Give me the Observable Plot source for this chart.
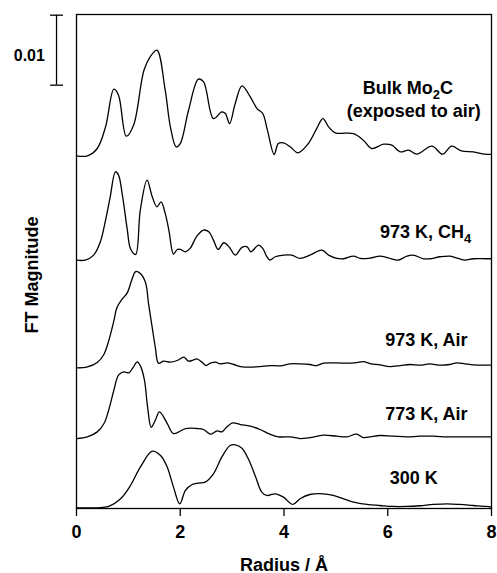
<!DOCTYPE html>
<html>
<head>
<meta charset="utf-8">
<script src="https://cdn.jsdelivr.net/npm/d3@7"></script>
<script src="https://cdn.jsdelivr.net/npm/@observablehq/plot@0.6"></script>
<style>
  html, body { margin: 0; padding: 0; background: #fff; }
  #chart svg { display: block; }
</style>
</head>
<body>
<div id="chart"></div>
<script>
// FT magnitudes in units of 10^-3 (scale bar = 0.01 = 10 units); radius in Å
const rBulk = [0, 0.21, 0.40, 0.56, 0.72, 0.81, 0.96, 1.10, 1.30, 1.42, 1.55, 1.71, 1.81, 1.92, 2.00, 2.16, 2.35, 2.45, 2.64, 2.80, 2.87, 2.95, 3.06, 3.19, 3.35, 3.48, 3.59, 3.68, 3.81, 3.89, 3.99, 4.12, 4.27, 4.47, 4.63, 4.75, 4.86, 4.99, 5.34, 5.53, 5.69, 5.92, 6.08, 6.24, 6.40, 6.56, 6.85, 7.06, 7.23, 7.42, 7.65, 7.87, 8.0];
const ftBulk = [0, 0, 1.05, 4.14, 9.52, 8.67, 2.81, 4.38, 12.24, 14.14, 15.1, 9.38, 4.14, 1.29, 1.76, 6.52, 10.95, 10.57, 5.33, 6.29, 6.05, 4.62, 7.48, 10.0, 8.43, 6.76, 6.05, 3.67, 0.19, 1.76, 1.86, 1.29, 0.43, 1.76, 3.90, 5.33, 4.14, 3.29, 3.19, 2.24, 1.05, 1.67, 1.52, 0.57, 0.81, 0.24, 1.38, 0.24, 1.38, 0.71, 0.57, 0.24, 0.2];

const rCH4 = [0, 0.17, 0.33, 0.46, 0.56, 0.65, 0.75, 0.81, 0.88, 0.98, 1.04, 1.14, 1.23, 1.36, 1.46, 1.55, 1.63, 1.71, 1.78, 1.87, 1.94, 2.00, 2.10, 2.19, 2.32, 2.45, 2.55, 2.64, 2.73, 2.84, 2.95, 3.06, 3.19, 3.29, 3.36, 3.51, 3.59, 3.67, 3.73, 3.83, 3.99, 4.15, 4.31, 4.50, 4.73, 4.86, 5.02, 5.15, 5.34, 5.47, 5.66, 5.85, 6.01, 6.20, 6.37, 6.49, 6.69, 6.81, 7.01, 7.20, 7.36, 7.49, 7.65, 7.90, 8.0];
const ftCH4 = [0, 0, 0.71, 2.62, 5.71, 9.05, 12.62, 12.14, 9.52, 4.29, 1.67, 0.81, 7.14, 11.43, 9.05, 7.62, 8.33, 6.67, 4.29, 0.86, 1.52, 1.52, 1.19, 1.67, 3.43, 4.29, 4.05, 2.86, 1.52, 2.48, 1.81, 0.71, 1.81, 1.90, 1.19, 2.14, 1.67, 0.48, 0, 0.48, 0.71, 0.71, 0.24, 0.71, 1.43, 0.71, 0.24, 0.19, 0.57, 0.24, 0.29, 0.57, 0.33, 0, 0.57, 0.71, 0.19, 0.19, 0.48, 0.57, 0.24, 0, 0.19, 0.19, 0.19];

const rAir973 = [0, 0.21, 0.40, 0.53, 0.62, 0.72, 0.78, 0.88, 0.98, 1.07, 1.14, 1.23, 1.33, 1.39, 1.46, 1.52, 1.58, 1.68, 1.81, 1.94, 2.07, 2.16, 2.26, 2.32, 2.42, 2.50, 2.58, 2.68, 2.77, 2.90, 3.03, 3.16, 3.35, 3.54, 3.73, 3.93, 4.12, 4.31, 4.50, 4.63, 4.76, 5.02, 5.21, 5.40, 5.53, 5.66, 5.85, 6.04, 6.24, 6.43, 6.62, 6.81, 7.01, 7.20, 7.33, 7.49, 7.65, 7.90, 8.0];
const ftAir973 = [0, 0.14, 0.76, 1.95, 3.86, 6.71, 8.62, 9.81, 10.76, 12.67, 13.76, 13.48, 12.19, 9.10, 5.76, 2.90, 0.67, 0.95, 0.81, 1.05, 1.52, 0.95, 1.14, 1.29, 0.81, 0.33, 0.67, 0.81, 0.57, 0.71, 0.48, 0.19, 0.10, 0.19, 0.33, 0.29, 0.57, 0.57, 0.48, 0.33, 0.67, 0.71, 0.67, 0.76, 0.90, 0.62, 0.43, 0.19, 0.33, 0.48, 0.38, 0.57, 0.38, 0.48, 0.71, 0.57, 0.43, 0.38, 0.38];

const rAir773 = [0, 0.21, 0.40, 0.53, 0.62, 0.72, 0.81, 0.91, 1.01, 1.09, 1.17, 1.24, 1.31, 1.37, 1.44, 1.52, 1.60, 1.75, 1.87, 2.10, 2.32, 2.45, 2.58, 2.71, 2.80, 2.90, 3.01, 3.16, 3.35, 3.54, 3.73, 3.89, 4.12, 4.31, 4.50, 4.76, 5.02, 5.21, 5.40, 5.53, 5.66, 5.85, 6.11, 6.37, 6.62, 6.88, 7.14, 7.39, 7.65, 7.90, 8.0];
const ftAir773 = [0, 0.24, 0.95, 2.14, 4.05, 6.90, 9.05, 9.52, 9.38, 10.14, 10.95, 10.24, 8.33, 4.52, 1.6, 2.62, 3.81, 2.14, 0.71, 1.43, 1.43, 1.29, 0.62, 1.10, 0.95, 1.67, 2.24, 2.0, 1.76, 1.29, 0.62, 0.24, 0.24, 0, 0.14, 0.48, 0.33, 0.24, 0.62, 0.14, 0.24, 0.43, 0.33, 0.24, 0.33, 0.33, 0.24, 0.24, 0.24, 0.24, 0.24];

const r300 = [0, 0.40, 0.62, 0.85, 1.04, 1.23, 1.46, 1.62, 1.75, 1.87, 1.99, 2.10, 2.23, 2.35, 2.48, 2.64, 2.80, 2.96, 3.06, 3.19, 3.32, 3.45, 3.57, 3.67, 3.83, 3.99, 4.17, 4.31, 4.50, 4.76, 4.95, 5.15, 5.34, 5.60, 5.85, 6.11, 6.37, 6.62, 6.88, 7.14, 7.39, 7.65, 7.90, 8.0];
const ft300 = [0, 0, 0.19, 1.29, 3.19, 5.81, 8.10, 7.48, 5.81, 2.95, 0.57, 2.48, 3.33, 3.52, 3.67, 4.86, 7.24, 8.90, 9.0, 8.52, 6.86, 4.48, 2.24, 1.76, 2.0, 1.52, 0.48, 1.29, 1.90, 2.0, 1.76, 1.29, 0.81, 0.48, 0.33, 0.19, 0.19, 0.29, 0.48, 0.57, 0.48, 0.33, 0.19, 0.1];

// vertical stacking offsets (10^-3 units)
const seriesNames = ["Bulk", "CH4 973", "Air 973", "Air 773", "300"];
const seriesOffsets = [50.3, 35.4, 20.0, 9.9, 0];
const seriesR = [rBulk, rCH4, rAir973, rAir773, r300];
const seriesFT = [ftBulk, ftCH4, ftAir973, ftAir773, ft300];

const labelText = ["Bulk Mo₂C", "(exposed to air)", "973 K, CH₄", "973 K, Air", "773 K, Air", "300 K"];
const xTicks = [0, 2, 4, 6, 8];
const scaleBarValue = 10; // 0.01
const scaleBarText = "0.01";

const rows = seriesNames.flatMap((name, k) =>
  seriesR[k].map((r, i) => ({series: name, r, y: seriesFT[k][i] + seriesOffsets[k]}))
);

// label layout (data coordinates)
const labelX = [5.52, 5.21, 5.85, 5.95, 5.95, 6.04];
const labelY = [59.2, 55.9, 38.55, 23.07, 12.5, 3.36];
const labels = labelText.map((t, i) => ({t, x: labelX[i], y: labelY[i]}));

const barTop = 70.4;
const FONT = "'Liberation Sans', Arial, Helvetica, sans-serif";

const chart = Plot.plot({
  width: 497,
  height: 573,
  marginLeft: 76,
  marginRight: 6,
  marginTop: 14,
  marginBottom: 65,
  style: {fontFamily: FONT, background: "white", color: "black"},
  x: {domain: [0, 8]},
  y: {domain: [-0.1, 70.5], axis: null},
  marks: [
    Plot.frame({stroke: "black", strokeWidth: 1.3}),
    Plot.axisX({ticks: xTicks, tickSize: 8, tickPadding: 9, fontSize: 18, fontWeight: "bold",
      label: "Radius / Å", labelAnchor: "center", labelArrow: "none", strokeWidth: 1.3}),
    Plot.line(rows, {x: "r", y: "y", z: "series", stroke: "black", strokeWidth: 1.3, curve: "catmull-rom"}),
    Plot.text(labels, {x: "x", y: "y", text: "t", textAnchor: "start", lineAnchor: "bottom",
      fontSize: 18, fontWeight: "bold", fill: "black"}),
    // scale bar: 0.01
    Plot.ruleX([scaleBarValue], {x: -0.385, y1: barTop - scaleBarValue, y2: barTop, stroke: "black", strokeWidth: 1.3}),
    Plot.ruleY([barTop - scaleBarValue, barTop], {y: d => d, x1: -0.5, x2: -0.25, stroke: "black", strokeWidth: 1.3}),
    Plot.text([scaleBarText], {x: -0.91, y: 63.8, text: d => d, lineAnchor: "bottom", fontSize: 16, fontWeight: "bold", fill: "black"}),
    // y-axis title
    Plot.text(["FT Magnitude"], {frameAnchor: "left", text: d => d, rotate: -90, dx: -44, dy: 72,
      fontSize: 18, fontWeight: "bold", fill: "black"})
  ]
});

// render subscripts
for (const t of chart.querySelectorAll("text")) {
  const s = t.textContent;
  if (!/[\u2080-\u2089]/.test(s) || t.children.length > 1) continue;
  t.textContent = "";
  let shifted = false;
  for (const part of s.match(/[\u2080-\u2089]+|[^\u2080-\u2089]+/g)) {
    const ts = document.createElementNS("http://www.w3.org/2000/svg", "tspan");
    if (/[\u2080-\u2089]/.test(part)) {
      ts.textContent = [...part].map(c => String.fromCharCode(c.charCodeAt(0) - 0x2080 + 48)).join("");
      ts.setAttribute("dy", "5");
      ts.setAttribute("font-size", "13");
      shifted = true;
    } else {
      ts.textContent = part;
      if (shifted) { ts.setAttribute("dy", "-5"); shifted = false; }
    }
    t.appendChild(ts);
  }
}

document.getElementById("chart").appendChild(chart);
</script>
</body>
</html>
